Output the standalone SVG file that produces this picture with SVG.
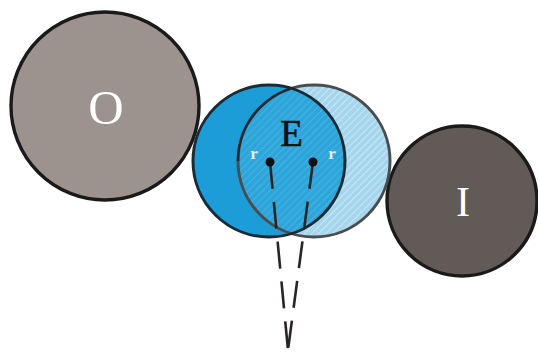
<svg xmlns="http://www.w3.org/2000/svg" width="538" height="353" viewBox="0 0 538 353">
  <style>
    .big { font-family: "Liberation Serif", "DejaVu Serif", serif; fill: #ffffff; text-anchor: middle; }
    .lbl { font-family: "Liberation Serif", "DejaVu Serif", serif; text-anchor: middle; }
    .ring { stroke: #1a1a1a; stroke-width: 3.4; }
    .dash { stroke: #2a2524; stroke-width: 2.6; fill: none; stroke-dasharray: 27 13; }
  </style>
  <defs>
    <pattern id="hatchLight" patternUnits="userSpaceOnUse" width="5" height="5" patternTransform="rotate(45)">
      <rect width="5" height="5" fill="#a6d5ee"/>
      <line x1="0" y1="0" x2="0" y2="5" stroke="#d4ecf8" stroke-width="1.6"/>
    </pattern>
    <pattern id="hatchMid" patternUnits="userSpaceOnUse" width="5" height="5" patternTransform="rotate(45)">
      <rect width="5" height="5" fill="#2ca5da"/>
      <line x1="0" y1="0" x2="0" y2="5" stroke="#55b7e2" stroke-width="1.4"/>
    </pattern>
    <clipPath id="leftClip">
      <circle cx="269" cy="161" r="76"/>
    </clipPath>
  </defs>
  <rect width="538" height="353" fill="#ffffff"/>

  <g id="node-O">
    <circle cx="105" cy="106" r="94" fill="#9c938e" class="ring"/>
    <text x="106" y="124" class="big" font-size="49">O</text>
  </g>

  <g id="node-I">
    <circle cx="462" cy="201" r="75" fill="#615a56" class="ring"/>
    <text x="463" y="216" class="big" font-size="42">I</text>
  </g>

  <g id="node-E">
    <circle cx="269" cy="161" r="76" fill="#1c9dd8"/>
    <circle cx="314" cy="161" r="76" fill="url(#hatchLight)"/>
    <circle cx="314" cy="161" r="76" fill="url(#hatchMid)" clip-path="url(#leftClip)"/>
    <circle cx="314" cy="161" r="76" fill="none" stroke="#4a4d50" stroke-width="3"/>
    <circle cx="269" cy="161" r="76" fill="none" stroke="#1b2a33" stroke-width="3"/>
    <path d="M 314 161 m -76 0 a 76 76 0 0 1 76 -76" fill="none" stroke="#1b2a33" stroke-width="2.4" clip-path="url(#leftClip)"/>
    <text x="291.5" y="146" class="lbl" font-size="37" fill="#111111" stroke="#111111" stroke-width="0.6">E</text>
    <text x="254" y="159" class="lbl" font-size="17" font-weight="bold" fill="#e3f2fa">r</text>
    <text x="332" y="159" class="lbl" font-size="17" font-weight="bold" fill="#e3f2fa">r</text>
  </g>

  <g id="connectors">
    <line x1="270" y1="162" x2="288" y2="350" class="dash"/>
    <line x1="313" y1="162" x2="288" y2="350" class="dash"/>
    <circle cx="270" cy="162" r="4.5" fill="#111111"/>
    <circle cx="313" cy="162" r="4.5" fill="#111111"/>
  </g>
</svg>
